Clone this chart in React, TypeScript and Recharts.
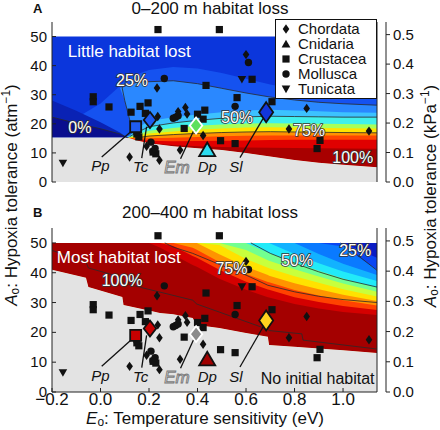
import React from 'react';
import { ComposedChart, Area, Scatter, XAxis, YAxis, Legend } from 'recharts';

const FONT = '"Liberation Sans", Arial, Helvetica, sans-serif';
const ATM_TO_KPA = 101.325;
const FILL_TOP = 50;

const xTicks = [-0.2, 0, 0.2, 0.4, 0.6, 0.8, 1.0];
const yTicks = [0, 10, 20, 30, 40, 50];
const kpaTicks = [0, 0.1, 0.2, 0.3, 0.4, 0.5];

const phyla = ['Chordata', 'Cnidaria', 'Crustacea', 'Mollusca', 'Tunicata'];

// species, [Eo (eV), Ao (atm^-1)]
const chordata = [
  [0.233, 32.3], [0.236, 22.5], [0.243, 18.2], [0.12, 8.6], [0.19, 12.3], [0.243, 7.5],
  [0.32, 24.2], [0.35, 25.6], [0.357, 23.4], [0.423, 16.0], [0.328, 11.0], [0.6, 43.8],
  [0.85, 25.3], [0.777, 18.2], [1.107, 17.5],
];
const crustacea = [
  [0.237, 52.4], [0.49, 52.4], [-0.03, 29.3], [-0.03, 27.6], [0.035, 25.8], [0.126, 24.0],
  [0.163, 26.0], [0.196, 27.2], [0.185, 23.6], [0.15, 16.5], [0.158, 15.5], [0.217, 10.3],
  [0.228, 9.7], [0.435, 33.2], [0.43, 24.7], [0.40, 23.3], [0.423, 21.6], [0.345, 18.4],
  [0.495, 14.2], [0.555, 13.2], [0.563, 29.0], [0.625, 35.3], [0.707, 27.6], [0.905, 14.3],
  [0.893, 11.5],
];
const mollusca = [
  [0.263, 35.6], [0.30, 21.9], [0.31, 22.3], [0.32, 22.8], [0.15, 17.1], [0.208, 13.7],
  [0.216, 10.5], [0.225, 11.5], [0.61, 41.1], [0.555, 26.0],
];
const tunicata = [[-0.155, 6.5], [0.583, 35.3]];
const cnidaria: number[][] = [];

// highlighted species
const focal = ['Pp', 'Tc', 'Em', 'Dp', 'Sl'];
const focalPhylum = ['Crustacea', 'Chordata', 'Chordata', 'Cnidaria', 'Chordata'];
const focalE = [0.145, 0.204, 0.394, 0.44, 0.683];
const focalA = [19.0, 21.3, 19.4, 10.8, 24.0];
const focalLabelE = [0.0, 0.165, 0.315, 0.44, 0.558];
const focalLabelA = [5.5, 5.2, 5.2, 5.2, 5.2];
const leaders = [
  [[0.134, 18.0], [0.005, 8.6]],
  [[0.19, 19.0], [0.17, 8.2]],
  [[0.385, 17.8], [0.33, 8.0]],
  [[0.67, 21.8], [0.575, 8.4]],
];

// panel A contours (0-200 m), boundaries in Ao at each Eo
const eA = [-0.2, -0.1, 0.0, 0.08, 0.1, 0.12, 0.15, 0.2, 0.3, 0.4, 0.5, 0.6, 0.7, 0.8, 0.9, 1.0, 1.14];
const gA = [15.3, 15.3, 15.3, 15.3, 15.3, 15.0, 14.3, 13.3, 12.3, 11.6, 11.0, 10.0, 8.8, 7.6, 6.6, 5.9, 5.1];
const b1A = [18, 22, 27, 33, 35, 36, 37, 38.5, 39.5, 39, 37.5, 35.5, 33.5, 32, 31, 30, 29.5];
const c25A = [15.3, 15.3, 15.3, 32.3, 33.0, 33.8, 34.3, 34.5, 34.8, 33.8, 32.2, 30.6, 29.2, 28.2, 27.4, 26.9, 26.4];
const c25loA = [15.3, 15.3, 15.3, 32.3, 28.0, 21.0, 14.3, 13.3, 12.3, 11.6, 11.0, 10.0, 8.8, 7.6, 6.6, 5.9, 5.1];
const skyA = [15.3, 15.3, 15.3, 15.3, 15.3, 16.0, 18.5, 21.0, 22.3, 23.2, 24.0, 24.6, 24.8, 24.6, 24.3, 24.0, 23.8];
const c50A = [15.3, 15.3, 15.3, 15.3, 15.3, 15.6, 17.0, 19.0, 20.3, 21.2, 21.9, 22.4, 22.6, 22.5, 22.4, 22.3, 22.3];
const greenA = [15.3, 15.3, 15.3, 15.3, 15.3, 15.4, 16.3, 17.6, 18.6, 19.3, 19.8, 20.1, 20.2, 20.1, 20.0, 19.9, 19.8];
const yelA = [15.3, 15.3, 15.3, 15.3, 15.3, 15.3, 15.8, 16.7, 17.4, 18.0, 18.4, 18.7, 18.8, 18.7, 18.6, 18.5, 18.4];
const c75A = [15.3, 15.3, 15.3, 15.3, 15.3, 15.2, 15.2, 15.8, 16.3, 16.7, 17.0, 17.2, 17.3, 17.2, 17.1, 17.0, 16.9];
const orA = [15.3, 15.3, 15.3, 15.3, 15.3, 15.1, 14.9, 15.0, 15.2, 15.5, 15.7, 15.9, 16.0, 16.0, 16.0, 16.0, 16.0];
const redA = [15.3, 15.3, 15.3, 15.3, 15.3, 15.0, 14.6, 14.2, 14.0, 14.1, 14.2, 14.3, 14.4, 14.5, 14.5, 14.5, 14.5];
const c100A = [15.3, 15.3, 15.3, 15.3, 15.3, 15.0, 14.3, 13.4, 12.7, 12.3, 12.0, 11.9, 11.8, 11.7, 11.6, 11.5, 11.4];
const d1A = [28.0, 24.5, 20.5, 17.0, 15.8, 15.0, 14.3, 13.3, 12.3, 11.6, 11.0, 10.0, 8.8, 7.6, 6.6, 5.9, 5.1];
const c0A = [22.3, 20.2, 18.3, 16.5, 15.6, 15.0, 14.3, 13.3, 12.3, 11.6, 11.0, 10.0, 8.8, 7.6, 6.6, 5.9, 5.1];

const line0A = [[-0.2, 22.3], [-0.1, 20.2], [0.0, 18.3], [0.08, 16.5], [0.11, 15.3]];
const line25A = [[0.134, 17], [0.1, 28], [0.089, 32.5], [0.1, 33], [0.15, 34.3], [0.3, 34.8], [0.4, 33.8],
  [0.5, 32.2], [0.6, 30.6], [0.7, 29.2], [0.8, 28.2], [0.9, 27.4], [1.0, 26.9], [1.14, 26.4]];
const line50A = [[0.12, 15.6], [0.15, 17], [0.2, 19], [0.3, 20.3], [0.4, 21.2], [0.5, 21.9], [0.6, 22.4],
  [0.7, 22.6], [0.8, 22.5], [0.9, 22.4], [1.0, 22.3], [1.14, 22.3]];
const line75A = [[0.15, 15.2], [0.2, 15.8], [0.3, 16.3], [0.4, 16.7], [0.5, 17], [0.6, 17.2], [0.7, 17.3],
  [0.8, 17.2], [0.9, 17.1], [1.0, 17], [1.14, 16.9]];

// panel B contours (200-400 m)
const eB = [-0.2, -0.06, -0.05, 0.09, 0.095, 0.2, 0.245, 0.3, 0.38, 0.397, 0.49, 0.6, 0.69, 0.695, 0.8, 0.9, 1.0, 1.14];
const gB = [41.0, 38.3, 35.2, 31.9, 29.2, 27.3, 26.5, 26.1, 24.8, 22.5, 21.5, 19.8, 18.5, 15.8, 15.2, 14.6, 14.0, 13.1];
const drB = [50, 50, 50, 50, 50, 50, 48.5, 46.0, 42.6, 42.0, 38.0, 34.3, 31.8, 31.7, 29.5, 28.0, 26.8, 25.8];
const redB = [50, 50, 50, 50, 50, 50, 50, 49.0, 45.6, 45.0, 41.0, 37.0, 34.4, 34.3, 31.8, 30.2, 28.8, 27.5];
const orB = [50, 50, 50, 50, 50, 50, 50, 50, 48.4, 47.7, 43.6, 39.6, 36.9, 36.8, 34.2, 32.4, 30.8, 29.0];
const ornB = [50, 50, 50, 50, 50, 50, 50, 50, 50, 50, 46.2, 42.0, 39.2, 39.0, 36.5, 34.5, 32.6, 30.5];
const yelB = [50, 50, 50, 50, 50, 50, 50, 50, 50, 50, 49.3, 44.6, 41.7, 41.5, 38.8, 36.6, 34.5, 32.0];
const ygB = [50, 50, 50, 50, 50, 50, 50, 50, 50, 50, 50, 47.6, 44.2, 44.0, 41.2, 38.7, 36.4, 33.6];
const grnB = [50, 50, 50, 50, 50, 50, 50, 50, 50, 50, 50, 50, 46.8, 46.6, 43.4, 40.7, 38.1, 35.0];
const cyanB = [50, 50, 50, 50, 50, 50, 50, 50, 50, 50, 50, 50, 50, 50, 46.3, 43.2, 40.4, 37.2];
const skyB = [50, 50, 50, 50, 50, 50, 50, 50, 50, 50, 50, 50, 50, 50, 50, 46.3, 43.0, 39.2];
const lbB = [50, 50, 50, 50, 50, 50, 50, 50, 50, 50, 50, 50, 50, 50, 50, 50, 48.8, 41.0];
const blueB = [50, 50, 50, 50, 50, 50, 50, 50, 50, 50, 50, 50, 50, 50, 50, 50, 50, 45.0];

const line100B = [[-0.2, 47.5], [-0.06, 43.6], [-0.05, 41.6], [0.09, 38.4], [0.095, 36.5], [0.245, 33.5],
  [0.38, 30.8], [0.397, 29.5], [0.49, 26.8], [0.69, 21.0], [0.695, 20.6], [0.83, 19.5], [0.835, 17.4], [1.14, 14.4]];
const line75B = [[0.265, 50], [0.3, 48.6], [0.38, 46.5], [0.49, 42.8], [0.6, 39.2], [0.69, 35.8], [0.8, 33.6],
  [0.9, 32.1], [1.0, 31], [1.14, 30]];
const line50B = [[0.62, 50], [0.7, 46.5], [0.82, 42.6], [0.9, 40.3], [1.0, 37.8], [1.14, 35.2]];
const line25B = [[0.99, 50], [1.05, 46.5], [1.14, 40.8]];

const pts = (arr: number[][]) => arr.map(([e, a]) => ({ e, a }));

const tableA = eA.map((e, i) => ({
  e, g: gA[i], b1: b1A[i], c25: c25A[i], c25lo: c25loA[i], sky: skyA[i], c50: c50A[i], green: greenA[i],
  yel: yelA[i], c75: c75A[i], or: orA[i], red: redA[i], c100: c100A[i], d1: d1A[i], c0: c0A[i],
}));
const tableB = eB.map((e, i) => ({
  e, g: gB[i], dr: drB[i], red: redB[i], or: orB[i], orn: ornB[i], yel: yelB[i], yg: ygB[i], grn: grnB[i],
  cyan: cyanB[i], sky: skyB[i], lb: lbB[i], blue: blueB[i],
}));

const bandsA = [
  { lo: 'g', hi: null, color: '#0b36dc' },
  { lo: 'g', hi: 'b1', color: '#1552f0' },
  { lo: 'c25lo', hi: 'c25', color: '#2a88ff' },
  { lo: 'g', hi: 'sky', color: '#3cc2ff' },
  { lo: 'g', hi: 'c50', color: '#40f0ec' },
  { lo: 'g', hi: 'green', color: '#a8ff5a' },
  { lo: 'g', hi: 'yel', color: '#ffe400' },
  { lo: 'g', hi: 'c75', color: '#ff9200' },
  { lo: 'g', hi: 'or', color: '#ff4400' },
  { lo: 'g', hi: 'red', color: '#e00000' },
  { lo: 'g', hi: 'c100', color: '#a80000' },
  { lo: 'g', hi: 'd1', color: '#0a22b4' },
  { lo: 'g', hi: 'c0', color: '#0a0e8e' },
  { lo: null, hi: 'g', color: '#e3e3e3' },
];
const bandsB = [
  { lo: 'g', hi: null, color: '#0a1cc4' },
  { lo: 'g', hi: 'blue', color: '#0a46f2' },
  { lo: 'g', hi: 'lb', color: '#0a7aff' },
  { lo: 'g', hi: 'sky', color: '#12b2ff' },
  { lo: 'g', hi: 'cyan', color: '#22eaf8' },
  { lo: 'g', hi: 'grn', color: '#72ff90' },
  { lo: 'g', hi: 'yg', color: '#c8ff3c' },
  { lo: 'g', hi: 'yel', color: '#ffe200' },
  { lo: 'g', hi: 'orn', color: '#ff9400' },
  { lo: 'g', hi: 'or', color: '#ff4200' },
  { lo: 'g', hi: 'red', color: '#d40000' },
  { lo: 'g', hi: 'dr', color: '#a40000' },
  { lo: null, hi: 'g', color: '#e3e3e3' },
];

const textsA = [
  { e: -0.135, a: 45.2, t: 'Little habitat lost', kind: 'region' },
  { e: 0.13, a: 35.0, t: '25%', kind: 'contour' },
  { e: -0.085, a: 18.8, t: '0%', kind: 'contour' },
  { e: 0.563, a: 22.3, t: '50%', kind: 'contour' },
  { e: 0.86, a: 17.8, t: '75%', kind: 'contour' },
  { e: 1.04, a: 8.6, t: '100%', kind: 'contour' },
];
const textsB = [
  { e: -0.18, a: 45.3, t: 'Most habitat lost', kind: 'region' },
  { e: 0.089, a: 37.6, t: '100%', kind: 'contour' },
  { e: 0.54, a: 41.6, t: '75%', kind: 'contour' },
  { e: 0.81, a: 44.3, t: '50%', kind: 'contour' },
  { e: 1.05, a: 47.6, t: '25%', kind: 'contour' },
  { e: 1.13, a: 4.7, t: 'No initial habitat', kind: 'note' },
];
const focalFillA = ['#1f5cf0', '#1f5cf0', '#5ce05c', '#2cdcf0', '#1236dc'];
const focalFillB = ['#c80000', '#c80000', '#8c8c8c', '#a00000', '#ffd21e'];

const fmtX = (v: number) => (v < 0 ? '\u2212' : '') + Math.abs(v).toFixed(1);

function Glyph({ kind, cx, cy }: any) {
  if (kind === 'Mollusca') return <circle cx={cx} cy={cy} r={3.7} fill="#111" />;
  let d = '';
  if (kind === 'Chordata') d = `M${cx},${cy - 4.7}L${cx + 3.3},${cy}L${cx},${cy + 4.7}L${cx - 3.3},${cy}Z`;
  else if (kind === 'Crustacea') d = `M${cx - 3.6},${cy - 3.6}h7.2v7.2h-7.2Z`;
  else if (kind === 'Cnidaria') d = `M${cx},${cy - 4.3}L${cx + 4.4},${cy + 3.5}L${cx - 4.4},${cy + 3.5}Z`;
  else d = `M${cx - 4.3},${cy - 3.4}L${cx + 4.3},${cy - 3.4}L${cx},${cy + 4.2}Z`;
  return <path d={d} fill="#111" />;
}

function FocalMark({ cx, cy, payload }: any) {
  const { kind, fill, name } = payload;
  const stroke = name === 'Em' ? '#fff' : '#111';
  let d = '';
  if (kind === 'Crustacea') d = `M${cx - 5.5},${cy - 5.5}h11v11h-11Z`;
  else if (kind === 'Cnidaria') d = `M${cx},${cy - 8}L${cx + 8},${cy + 5.5}L${cx - 8},${cy + 5.5}Z`;
  else if (name === 'Sl') d = `M${cx},${cy - 10}L${cx + 7},${cy}L${cx},${cy + 10}L${cx - 7},${cy}Z`;
  else d = `M${cx},${cy - 8}L${cx + 6.2},${cy}L${cx},${cy + 8}L${cx - 6.2},${cy}Z`;
  return <path d={d} fill={fill} stroke={stroke} strokeWidth={1.8} strokeLinejoin="miter" />;
}

function TextMark({ cx, cy, payload }: any) {
  const { t, kind } = payload;
  if (kind === 'region')
    return <text x={cx} y={cy} dy="0.36em" fontSize={17} fill="#fff" fontFamily={FONT}>{t}</text>;
  if (kind === 'note')
    return <text x={cx} y={cy} dy="0.36em" fontSize={16} fill="#111" textAnchor="end" fontFamily={FONT}>{t}</text>;
  if (kind === 'species')
    return (
      <text x={cx} y={cy} dy="0.36em" fontSize={t === 'Em' ? 17 : 15} fontStyle="italic" textAnchor="middle"
        fontFamily={FONT} fill={t === 'Em' ? '#fff' : '#111'} stroke={t === 'Em' ? '#7a7a7a' : 'none'} strokeWidth={1}>
        {t}
      </text>
    );
  return (
    <text x={cx} y={cy} dy="0.36em" fontSize={16} fill="#fff" stroke="#333" strokeWidth={1.6}
      paintOrder="stroke" textAnchor="middle" fontFamily={FONT}>{t}</text>
  );
}

const tickLeft = ({ x, y, payload }: any) => (
  <g>
    <line x1={x} x2={x + 4} y1={y} y2={y} stroke="#222" />
    <text x={x - 5} y={y + 5} textAnchor="end" fontSize={15} fill="#111" fontFamily={FONT}>{payload.value}</text>
  </g>
);
const tickRight = ({ x, y, payload }: any) => (
  <g>
    <line x1={x} x2={x + 4} y1={y} y2={y} stroke="#222" />
    <text x={x + 7} y={y + 5} fontSize={15} fill="#111" fontFamily={FONT}>{payload.value.toFixed(1)}</text>
  </g>
);
const tickTop = ({ x, y }: any) => <line x1={x} x2={x} y1={y} y2={y + 4} stroke="#222" />;
const tickBottomBare = ({ x, y }: any) => <line x1={x} x2={x} y1={y} y2={y - 4} stroke="#222" />;
const tickBottom = ({ x, y, payload }: any) => (
  <g>
    <line x1={x} x2={x} y1={y} y2={y - 4} stroke="#222" />
    <text x={x} y={y + 13} textAnchor="middle" fontSize={17} fill="#111" fontFamily={FONT}>{fmtX(payload.value)}</text>
  </g>
);

function LegendBox() {
  return (
    <div style={{ border: '1px solid #111', background: '#fff', padding: '1px 0 2px 4px', width: 96, fontFamily: FONT }}>
      {phyla.map((p) => (
        <div key={p} style={{ display: 'flex', alignItems: 'center', height: 15, fontSize: 15, lineHeight: '15px', color: '#111' }}>
          <svg width={12} height={12} style={{ marginRight: 6 }}>
            <Glyph kind={p} cx={6} cy={6} />
          </svg>
          {p}
        </div>
      ))}
    </div>
  );
}

function Panel({ table, bands, lines, texts, focalFill, height, marginTop, marginBottom, xLabels, legend }: any) {
  const none = () => <g />;
  const focalData = focal.map((name, i) => ({
    e: focalE[i], a: focalA[i], name, kind: focalPhylum[i], fill: focalFill[i],
  }));
  const labelData = [
    ...texts,
    ...focal.map((t, i) => ({ e: focalLabelE[i], a: focalLabelA[i], t, kind: 'species' })),
  ];
  return (
    <ComposedChart width={440} height={height} data={table}
      margin={{ top: marginTop, right: 9, bottom: marginBottom, left: 22 }}>
      <XAxis dataKey="e" type="number" domain={[-0.2, 1.14]} ticks={xTicks} allowDataOverflow
        height={xLabels ? 24 : 0} tickSize={0} tickMargin={0} stroke="#222"
        tick={xLabels ? tickBottom : tickBottomBare} />
      <XAxis xAxisId="top" orientation="top" type="number" domain={[-0.2, 1.14]} ticks={xTicks}
        allowDataOverflow height={0} tickSize={0} tickMargin={0} stroke="#222" tick={tickTop} />
      <YAxis type="number" domain={[0, 55]} ticks={yTicks} allowDataOverflow width={30}
        tickSize={0} tickMargin={0} stroke="#222" tick={tickLeft} />
      <YAxis yAxisId="frame" orientation="right" type="number" domain={[0, 55]} allowDataOverflow
        width={9} tick={false} tickLine={false} stroke="#222" />
      <YAxis yAxisId="kpa" orientation="right" type="number" domain={[0, 55 / ATM_TO_KPA]} ticks={kpaTicks}
        allowDataOverflow width={45} tickSize={0} tickMargin={0} stroke="#222" tick={tickRight} />
      {bands.map((b: any, i: number) => (
        <Area key={i} type="linear" isAnimationActive={false} stroke="none" fill={b.color} fillOpacity={1}
          dataKey={(d: any) => [b.lo ? d[b.lo] : 0, b.hi ? d[b.hi] : FILL_TOP]} legendType="none" />
      ))}
      {lines.map((l: number[][], i: number) => (
        <Scatter key={'l' + i} data={pts(l)} dataKey="a" line={{ stroke: '#2a2a2a', strokeWidth: 0.8 }}
          shape={none} isAnimationActive={false} legendType="none" />
      ))}
      <Scatter data={pts(chordata)} dataKey="a" name="Chordata" isAnimationActive={false}
        shape={(p: any) => <Glyph kind="Chordata" cx={p.cx} cy={p.cy} />} />
      <Scatter data={pts(cnidaria)} dataKey="a" name="Cnidaria" isAnimationActive={false}
        shape={(p: any) => <Glyph kind="Cnidaria" cx={p.cx} cy={p.cy} />} />
      <Scatter data={pts(crustacea)} dataKey="a" name="Crustacea" isAnimationActive={false}
        shape={(p: any) => <Glyph kind="Crustacea" cx={p.cx} cy={p.cy} />} />
      <Scatter data={pts(mollusca)} dataKey="a" name="Mollusca" isAnimationActive={false}
        shape={(p: any) => <Glyph kind="Mollusca" cx={p.cx} cy={p.cy} />} />
      <Scatter data={pts(tunicata)} dataKey="a" name="Tunicata" isAnimationActive={false}
        shape={(p: any) => <Glyph kind="Tunicata" cx={p.cx} cy={p.cy} />} />
      {leaders.map((l, i) => (
        <Scatter key={'ld' + i} data={pts(l)} dataKey="a" line={{ stroke: '#111', strokeWidth: 1.3 }}
          shape={none} isAnimationActive={false} legendType="none" />
      ))}
      <Scatter data={focalData} dataKey="a" shape={FocalMark} isAnimationActive={false} legendType="none" />
      <Scatter data={labelData} dataKey="a" shape={TextMark} isAnimationActive={false} legendType="none" />
      {legend && (
        <Legend layout="vertical" align="center" verticalAlign="middle" content={() => <LegendBox />}
          wrapperStyle={{ position: 'absolute', left: 275, top: 19, width: 102, height: 76 }} />
      )}
    </ComposedChart>
  );
}

const sub = { fontSize: '0.7em', verticalAlign: '-0.25em', lineHeight: 0 } as const;
const sup = { fontSize: '0.7em', verticalAlign: '0.55em', lineHeight: 0 } as const;

export default function App() {
  return (
    <div style={{ position: 'absolute', left: 0, top: 0, width: 440, height: 430, background: '#fff', fontFamily: FONT, color: '#111' }}>
      <div style={{ position: 'absolute', left: 0, top: 0 }}>
        <Panel table={tableA} bands={bandsA} lines={[line0A, line25A, line50A, line75A]} texts={textsA}
          focalFill={focalFillA} height={200} marginTop={22} marginBottom={18} xLabels={false} legend />
      </div>
      <div style={{ position: 'absolute', left: 0, top: 206 }}>
        <Panel table={tableB} bands={bandsB} lines={[line100B, line75B, line50B, line25B]} texts={textsB}
          focalFill={focalFillB} height={224} marginTop={22} marginBottom={14} xLabels legend={false} />
      </div>
      <div style={{ position: 'absolute', left: 33, top: 2, fontSize: 13, fontWeight: 'bold', lineHeight: 1 }}>A</div>
      <div style={{ position: 'absolute', left: 60, width: 300, top: 0, textAlign: 'center', fontSize: 17, lineHeight: 1 }}>
        0–200 m habitat loss
      </div>
      <div style={{ position: 'absolute', left: 33, top: 206, fontSize: 13, fontWeight: 'bold', lineHeight: 1 }}>B</div>
      <div style={{ position: 'absolute', left: 60, width: 300, top: 204, textAlign: 'center', fontSize: 17, lineHeight: 1 }}>
        200–400 m habitat loss
      </div>
      <div style={{ position: 'absolute', left: 11, top: 195, transform: 'translate(-50%, -50%) rotate(-90deg)', whiteSpace: 'nowrap', fontSize: 17, lineHeight: 1 }}>
        <i>A</i><span style={sub}>o</span>: Hypoxia tolerance (atm<span style={sup}>−1</span>)
      </div>
      <div style={{ position: 'absolute', left: 430, top: 196, transform: 'translate(-50%, -50%) rotate(-90deg)', whiteSpace: 'nowrap', fontSize: 17, lineHeight: 1 }}>
        <i>A</i><span style={sub}>o</span>: Hypoxia tolerance (kPa<span style={sup}>−1</span>)
      </div>
      <div style={{ position: 'absolute', left: 205, top: 418, transform: 'translate(-50%, -50%)', whiteSpace: 'nowrap', fontSize: 17, lineHeight: 1 }}>
        <i>E</i><span style={sub}>o</span>: Temperature sensitivity (eV)
      </div>
    </div>
  );
}
